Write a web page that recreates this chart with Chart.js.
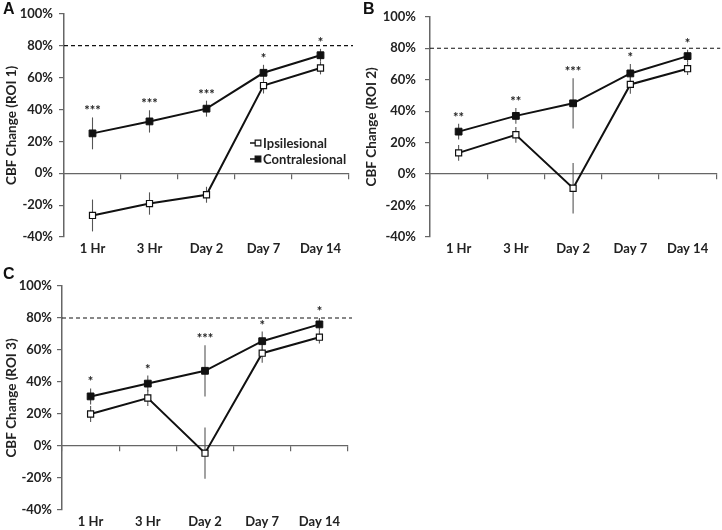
<!DOCTYPE html>
<html>
<head>
<meta charset="utf-8">
<script src="https://cdn.jsdelivr.net/npm/chart.js@4.4.1/dist/chart.umd.min.js"></script>
<style>
html, body { margin: 0; padding: 0; background: #fff; }
body { width: 722px; height: 530px; position: relative; overflow: hidden; }
.panel { position: absolute; }
.letter { position: absolute; font: bold 16px "Liberation Sans", Arial, sans-serif; line-height: 16px; color: #111; }
</style>
</head>
<body>
<div class="panel" style="left:0;top:0;width:360px;height:265px"><canvas id="chartA"></canvas></div>
<div class="panel" style="left:360px;top:0;width:362px;height:265px"><canvas id="chartB"></canvas></div>
<div class="panel" style="left:0;top:265px;width:360px;height:265px"><canvas id="chartC"></canvas></div>
<div class="letter" style="left:3px;top:1px">A</div>
<div class="letter" style="left:363px;top:1px">B</div>
<div class="letter" style="left:3px;top:266px">C</div>
<script>
const categories = ['1 Hr', '3 Hr', 'Day 2', 'Day 7', 'Day 14'];
const yTicks = [-40, -20, 0, 20, 40, 60, 80, 100];
const threshold = 80;
const seriesNames = ['Ipsilesional', 'Contralesional'];

// ROI 1
const ipsiA = [-26.5, -19, -13.5, 55, 66];
const ipsiErrA = [10, 7, 5, 5, 4];
const contraA = [25, 32.5, 40.5, 63, 74];
const contraErrA = [10, 7, 5, 5, 4];
const sigA = ['***', '***', '***', '*', '*'];

// ROI 2
const ipsiB = [13.5, 25, -9, 57, 67];
const ipsiErrB = [5, 5, 16, 6, 4];
const contraB = [27, 37, 45, 64, 75];
const contraErrB = [5, 5, 16, 6, 4];
const sigB = ['**', '**', '***', '*', '*'];

// ROI 3
const ipsiC = [20, 30, -4.5, 58, 68];
const ipsiErrC = [5, 5, 16, 6, 4];
const contraC = [31, 39, 47, 65.5, 76];
const contraErrC = [5, 5, 16, 6, 4];
const sigC = ['*', '*', '***', '*', '*'];

const ink = '#111';
const axisInk = '#666';
const font = 'Lato, "Open Sans", sans-serif';

const errorBars = {
    id: 'errorBars',
    beforeDatasetsDraw(chart) {
        const ctx = chart.ctx;
        const y = chart.scales.y;
        ctx.save();
        ctx.strokeStyle = '#555';
        ctx.lineWidth = 1.1;
        chart.data.datasets.forEach((ds, i) => {
            const meta = chart.getDatasetMeta(i);
            meta.data.forEach((pt, j) => {
                const v = ds.data[j], e = ds.errors[j];
                ctx.beginPath();
                ctx.moveTo(pt.x, y.getPixelForValue(v + e));
                ctx.lineTo(pt.x, y.getPixelForValue(v - e));
                ctx.stroke();
            });
        });
        ctx.restore();
    }
};

const refLine = {
    id: 'refLine',
    beforeDatasetsDraw(chart, args, opts) {
        const ctx = chart.ctx;
        const area = chart.chartArea;
        const yy = chart.scales.y.getPixelForValue(threshold);
        ctx.save();
        ctx.strokeStyle = ink;
        ctx.lineWidth = 1.2;
        ctx.setLineDash([4, 3]);
        ctx.beginPath();
        ctx.moveTo(area.left, yy);
        ctx.lineTo(area.right + opts.extra, yy);
        ctx.stroke();
        ctx.restore();
    }
};

const stars = {
    id: 'stars',
    afterDatasetsDraw(chart, args, opts) {
        const ctx = chart.ctx;
        const y = chart.scales.y;
        const ds = chart.data.datasets[1];
        const meta = chart.getDatasetMeta(1);
        ctx.save();
        ctx.fillStyle = '#222';
        ctx.font = 'bold 13px ' + font;
        ctx.textAlign = 'center';
        ctx.textBaseline = 'alphabetic';
        meta.data.forEach((pt, j) => {
            const top = y.getPixelForValue(ds.data[j] + ds.errors[j]);
            ctx.fillText(opts.marks[j], pt.x, top - 2);
        });
        ctx.restore();
    }
};

const insideLegend = {
    id: 'insideLegend',
    afterDraw(chart, args, opts) {
        if (!opts.show) return;
        const ctx = chart.ctx;
        chart.data.datasets.forEach((ds, i) => {
            const x = opts.x, yy = opts.y + i * opts.gap;
            ctx.save();
            ctx.strokeStyle = ink;
            ctx.lineWidth = 1.5;
            ctx.beginPath();
            ctx.moveTo(x, yy);
            ctx.lineTo(x + 8, yy);
            ctx.stroke();
            ctx.fillStyle = ds.pointBackgroundColor;
            ctx.strokeStyle = ds.pointBorderColor;
            ctx.lineWidth = 1.2;
            Chart.helpers.drawPoint(ctx, { pointStyle: 'rect', radius: 4, borderWidth: 1.2, rotation: 0 }, x + 8, yy);
            ctx.fillStyle = '#222';
            ctx.font = 'bold 13px ' + font;
            ctx.textAlign = 'left';
            ctx.textBaseline = 'middle';
            ctx.fillText(ds.label, x + 13, yy + 1);
            ctx.restore();
        });
    }
};

const makePanel = (id, roi, ipsi, ipsiErr, contra, contraErr, marks, cfg) => {
    const data = {
        labels: categories,
        datasets: [
            {
                label: seriesNames[0],
                data: ipsi,
                errors: ipsiErr,
                borderColor: ink,
                borderWidth: 2,
                pointStyle: 'rect',
                pointRadius: 4.3,
                pointBorderWidth: 1.2,
                pointBackgroundColor: '#fff',
                pointBorderColor: ink
            },
            {
                label: seriesNames[1],
                data: contra,
                errors: contraErr,
                borderColor: ink,
                borderWidth: 2,
                pointStyle: 'rect',
                pointRadius: 4.8,
                pointBorderWidth: 1,
                pointBackgroundColor: ink,
                pointBorderColor: ink
            }
        ]
    };

    return new Chart(document.getElementById(id), {
        type: 'line',
        data: data,
        plugins: [errorBars, refLine, stars, insideLegend],
        options: {
            responsive: true,
            maintainAspectRatio: false,
            animation: false,
            layout: { padding: { top: cfg.padTop, right: cfg.padRight, left: 0, bottom: 0 } },
            plugins: {
                legend: { display: false },
                tooltip: { enabled: false },
                refLine: { extra: cfg.refExtra },
                stars: { marks: marks },
                insideLegend: cfg.legend || { show: false }
            },
            scales: {
                x: {
                    type: 'category',
                    position: 'bottom',
                    offset: true,
                    grid: { display: false, drawTicks: false },
                    border: { display: false },
                    ticks: {
                        color: '#222',
                        font: { family: font, weight: 'bold', size: 13 },
                        padding: 4,
                        maxRotation: 0,
                        autoSkip: false
                    },
                    afterFit: s => { s.height = cfg.xAxisH; }
                },
                x2: {
                    type: 'category',
                    labels: categories,
                    position: { y: 0 },
                    offset: true,
                    grid: { drawOnChartArea: false, drawTicks: true, tickLength: 5, color: axisInk, lineWidth: 1.2, offset: true },
                    border: { display: true, color: axisInk, width: 1.2 },
                    ticks: { display: false }
                },
                y: {
                    min: yTicks[0],
                    max: yTicks[yTicks.length - 1],
                    ticks: {
                        stepSize: yTicks[1] - yTicks[0],
                        callback: v => v + '%',
                        color: '#222',
                        font: { family: font, weight: 'bold', size: 13 },
                        padding: cfg.tickPad
                    },
                    grid: { drawOnChartArea: false, drawTicks: true, tickLength: 5, color: axisInk, lineWidth: 1.2 },
                    border: { display: true, color: axisInk, width: 1.5 },
                    title: {
                        display: true,
                        text: 'CBF Change (ROI ' + roi + ')',
                        color: '#222',
                        font: { family: font, weight: 'bold', size: 13.5 },
                        padding: { top: 4, bottom: 2 }
                    },
                    afterFit: s => { s.width = cfg.axisW; }
                }
            }
        }
    });
};

makePanel('chartA', 1, ipsiA, ipsiErrA, contraA, contraErrA, sigA,
    { axisW: 64, padTop: 13, padRight: 11, xAxisH: 28, refExtra: 4, tickPad: 6,
      legend: { show: true, x: 250, y: 143, gap: 16 } });
makePanel('chartB', 2, ipsiB, ipsiErrB, contraB, contraErrB, sigB,
    { axisW: 70, padTop: 13, padRight: 4, xAxisH: 28, refExtra: 4, tickPad: 9 });
makePanel('chartC', 3, ipsiC, ipsiErrC, contraC, contraErrC, sigC,
    { axisW: 62, padTop: 21, padRight: 12, xAxisH: 20, refExtra: 4, tickPad: 5 });
</script>
</body>
</html>
